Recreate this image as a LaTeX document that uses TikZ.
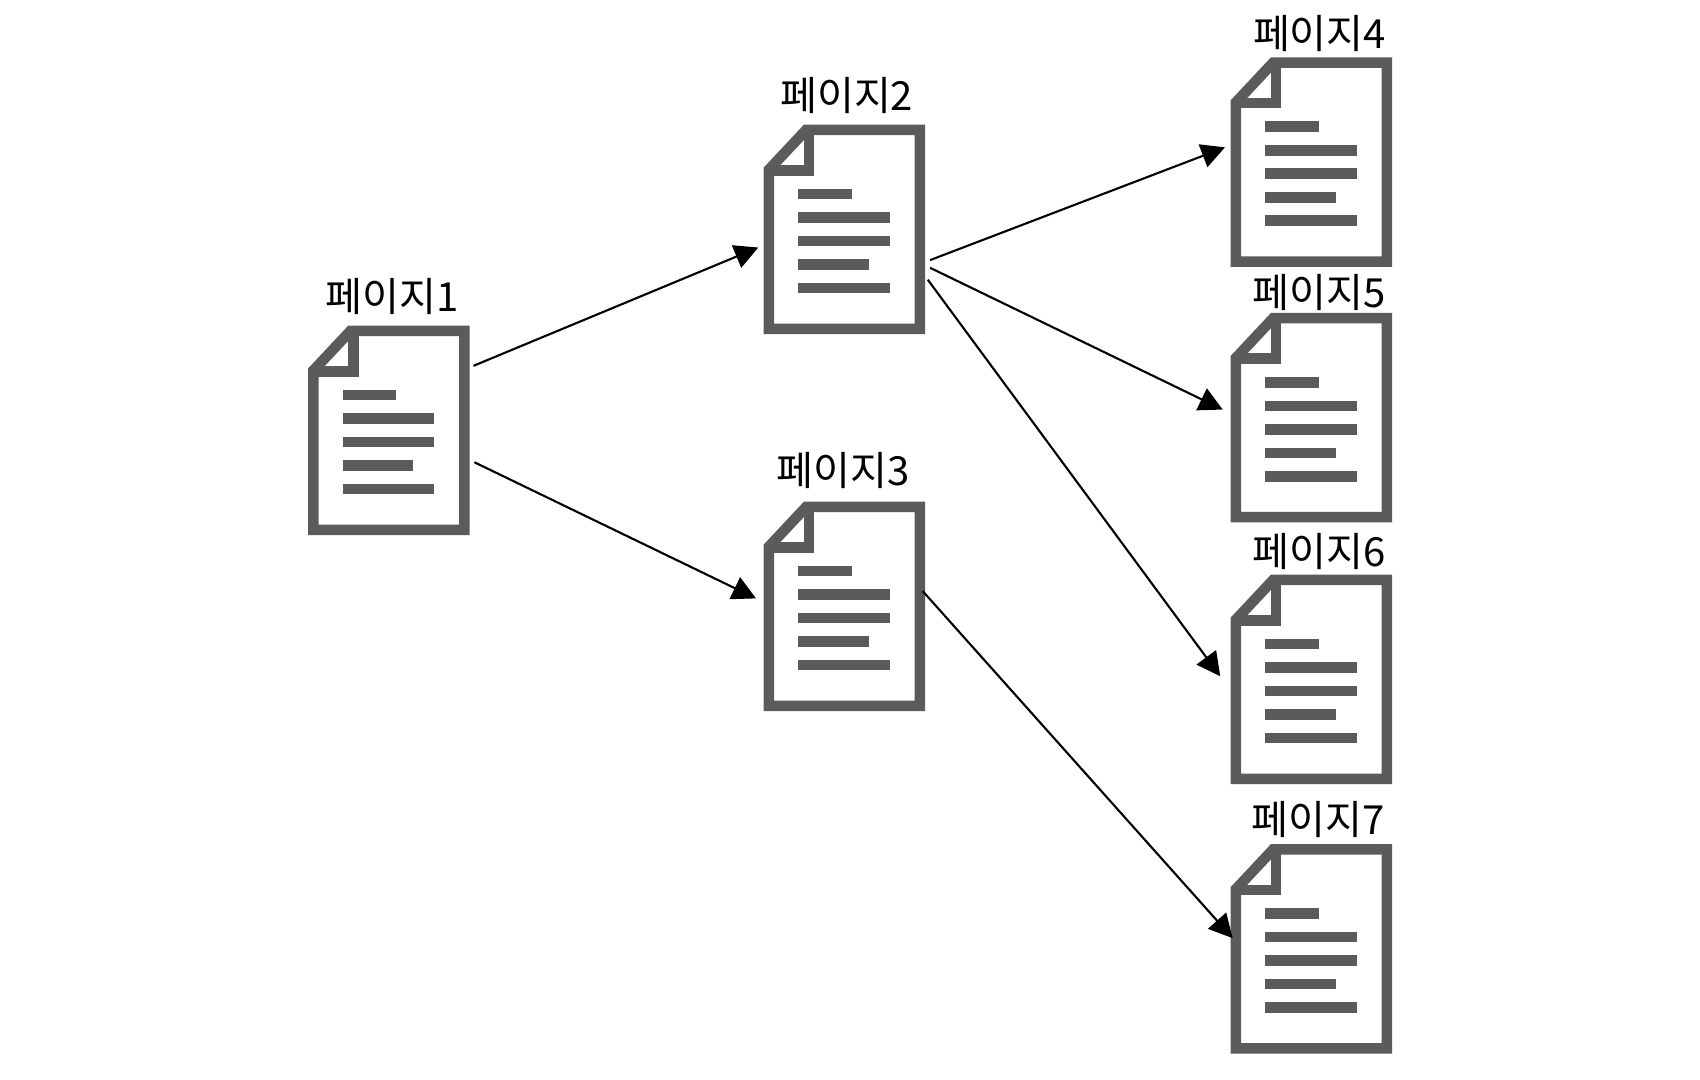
\documentclass[tikz,border=0pt]{standalone}
\usepackage{fontspec}
\newfontfamily\krfont{Noto Sans CJK KR}
\usetikzlibrary{arrows.meta}
\definecolor{pagegray}{HTML}{5B5B5B}
\tikzset{
    pagebox/.style={inner sep=0pt,outer sep=0pt,minimum width=1.61cm,minimum height=2.09cm},
    pagelabel/.style={inner sep=0pt,font=\krfont\fontsize{11.4pt}{13pt}\selectfont},
    pageline/.style={draw=pagegray,line width=0.105cm,miter limit=10},
    link/.style={line width=0.6pt,-{Triangle[length=0.235cm,width=0.24cm]}}
}
\begin{document}
\begin{tikzpicture}[x=0.01cm,y=-0.01cm]
    \useasboundingbox (0,0) rectangle (1700,1080);
    \foreach \n/\px/\py/\lx/\ly in {1/388.8/430.5/392.3/297,2/844.5/229.5/846.7/96,3/844.5/606.5/843.3/471,4/1311.5/162.2/1319.5/34,5/1311.5/417.8/1318.8/293,6/1311.5/679.5/1318.8/552,7/1311.5/949/1318.3/820} {
        \node [pagebox] (page\n) at (\px,\py) {};
        \node [pagelabel] (title\n) at (\lx,\ly) {페이지\n};
        \begin{scope}[shift={(page\n.north west)}]
            \draw [pageline] (5,204)--(5,44.7)--(42.2,5)--(156,5)--(156,204)--cycle;
            \draw [pageline] (45,5)--(45,45.5)--(5,45.5);
            \foreach \bw/\by in {53.3/69,91.3/92.7,91.3/116,70.7/139.7,91.3/163} {
                \fill [pagegray] (34.5,\by-5.3) rectangle (34.5+\bw,\by+5.3);
            }
        \end{scope}
    }
    \draw [link,shorten <=0.045cm,shorten >=0.062cm] (page1.38.8) -- (page2.191.2);
    \draw [link,shorten <=0.056cm,shorten >=0.089cm] (page1.340.8) -- (page3.177.2);
    \draw [link,shorten <=0.053cm,shorten >=0.064cm] (page2.338.5) -- (page4.168.6);
    \draw [link,shorten <=0.056cm,shorten >=0.092cm] (page2.336.3) -- (page5.177.3);
    \draw [link,shorten <=0.046cm,shorten >=0.181cm] (page2.330.5) -- (page6.188.8);
    \draw [link,shorten <=-0.035cm,shorten >=-0.026cm] (page3.9.8) -- (page7.171.8);
\end{tikzpicture}
\end{document}
